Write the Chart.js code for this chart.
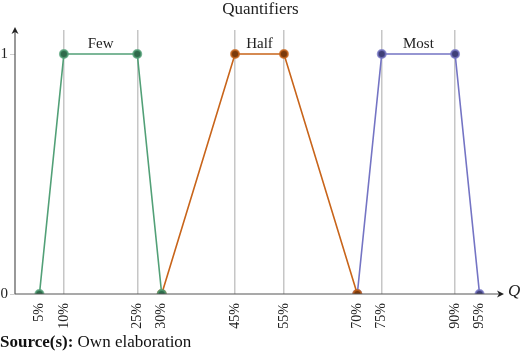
<!DOCTYPE html>
<html>
<head>
<meta charset="utf-8">
<script src="https://cdn.jsdelivr.net/npm/chart.js@4"></script>
<style>
html, body { margin: 0; padding: 0; background: #fff; }
#wrap { position: relative; width: 520px; height: 354px; }
#source { position: absolute; left: 0px; top: 332px; font-family: 'Liberation Serif', serif; font-size: 17px; color: #111; white-space: nowrap; }
</style>
</head>
<body>
<div id="wrap">
  <canvas id="quantChart" width="520" height="354"></canvas>
  <div id="source"><b>Source(s):</b> Own elaboration</div>
</div>
<script>
// membership functions for the three quantifiers
var chartTitle = 'Quantifiers';
var setNames = ['Few', 'Half', 'Most'];
var fewX = [5, 10, 25, 30];
var halfX = [30, 45, 55, 70];
var mostX = [70, 75, 90, 95];
var memberY = [0, 1, 1, 0];
var tickVals = [5, 10, 25, 30, 45, 55, 70, 75, 90, 95];

var lineColors = ['#52a077', '#c8641a', '#7474c4'];
var dotColors = ['#2f6a4b', '#7a3a0c', '#3f3f78'];
var haloColors = ['rgba(82,160,119,0.75)', 'rgba(200,100,26,0.75)', 'rgba(116,116,196,0.75)'];

function toPoints(xs) {
    return xs.map(function(x, i) { return { x: x, y: memberY[i] }; });
}

// vertical guides only where a set reaches full membership
var plateauX = [];
[fewX, halfX, mostX].forEach(function(xs) {
    xs.forEach(function(x, i) { if (memberY[i] === 1) plateauX.push(x); });
});

var serif = "'Liberation Serif', 'Times New Roman', serif";

var decorPlugin = {
    id: 'decor',
    afterDraw: function(chart) {
        var ctx = chart.ctx;
        var area = chart.chartArea;
        var xs = chart.scales.x, ys = chart.scales.y;
        var y0 = ys.getPixelForValue(0);
        ctx.save();
        // title centred over the plot
        ctx.fillStyle = '#222';
        ctx.font = '17px ' + serif;
        ctx.textAlign = 'center';
        ctx.textBaseline = 'middle';
        ctx.fillText(chartTitle, (area.left + area.right) / 2 + 1, 10);
        // axis lines with arrow heads
        ctx.strokeStyle = '#555';
        ctx.lineWidth = 1.2;
        ctx.beginPath();
        ctx.moveTo(area.left, y0);
        ctx.lineTo(area.right - 3, y0);
        ctx.moveTo(area.left, y0);
        ctx.lineTo(area.left, area.top);
        ctx.stroke();
        ctx.beginPath();
        ctx.moveTo(area.right, y0);
        ctx.lineTo(area.right - 7, y0 - 3.5);
        ctx.lineTo(area.right - 5, y0);
        ctx.lineTo(area.right - 7, y0 + 3.5);
        ctx.closePath();
        ctx.fill();
        ctx.beginPath();
        ctx.moveTo(area.left, area.top - 3);
        ctx.lineTo(area.left - 3.5, area.top + 4);
        ctx.lineTo(area.left, area.top + 2);
        ctx.lineTo(area.left + 3.5, area.top + 4);
        ctx.closePath();
        ctx.fill();
        // Q label
        ctx.font = 'italic 17px ' + serif;
        ctx.textAlign = 'left';
        ctx.fillText('Q', area.right + 4, y0 - 2);
        // set names above the plateaus
        ctx.font = '15px ' + serif;
        ctx.textAlign = 'center';
        ctx.textBaseline = 'alphabetic';
        chart.data.datasets.forEach(function(ds, i) {
            var top = ds.data.filter(function(p) { return p.y === 1; });
            var mid = top.reduce(function(s, p) { return s + p.x; }, 0) / top.length;
            ctx.fillText(setNames[i], xs.getPixelForValue(mid), ys.getPixelForValue(1) - 6);
        });
        ctx.restore();
    }
};

var datasets = [fewX, halfX, mostX].map(function(xs, i) {
    return {
        label: setNames[i],
        data: toPoints(xs),
        showLine: true,
        borderColor: lineColors[i],
        borderWidth: 1.6,
        pointRadius: 4,
        pointBackgroundColor: dotColors[i],
        pointBorderColor: haloColors[i],
        pointBorderWidth: 2,
        tension: 0
    };
});

new Chart(document.getElementById('quantChart'), {
    type: 'scatter',
    data: { datasets: datasets },
    plugins: [decorPlugin],
    options: {
        responsive: false,
        animation: false,
        layout: { padding: { left: 0, right: 16, top: 30, bottom: 0 } },
        plugins: {
            legend: { display: false },
            tooltip: { enabled: false },
            title: { display: false }
        },
        scales: {
            x: {
                type: 'linear',
                min: 0,
                max: 100,
                afterBuildTicks: function(scale) {
                    scale.ticks = tickVals.map(function(v) { return { value: v }; });
                },
                afterFit: function(scale) { scale.height = 60; },
                border: { display: false },
                grid: {
                    color: function(c) {
                        return c.tick && plateauX.indexOf(c.tick.value) >= 0 ? '#c6c6c6' : 'rgba(0,0,0,0)';
                    },
                    lineWidth: 1.5,
                    drawTicks: false
                },
                ticks: {
                    autoSkip: false,
                    minRotation: 90,
                    maxRotation: 90,
                    padding: 9,
                    color: '#222',
                    font: { family: serif, size: 14 },
                    callback: function(v) { return v + '%'; }
                }
            },
            y: {
                type: 'linear',
                min: 0,
                max: 1.1,
                afterBuildTicks: function(scale) {
                    scale.ticks = [{ value: 0 }, { value: 1 }];
                },
                afterFit: function(scale) { scale.width = 15; },
                border: { display: false },
                grid: { drawOnChartArea: false, drawTicks: true, tickLength: 5, color: '#cfcfcf' },
                ticks: {
                    padding: 2,
                    color: '#222',
                    font: { family: serif, size: 15 }
                }
            }
        }
    }
});
</script>
</body>
</html>
